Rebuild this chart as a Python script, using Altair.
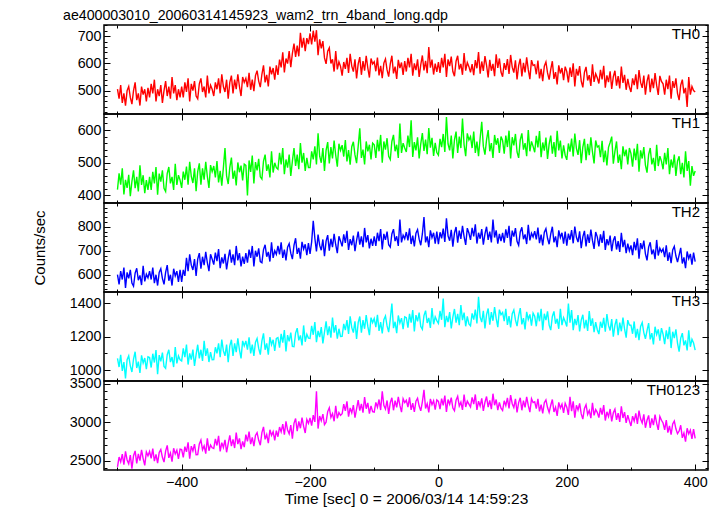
import altair as alt
import pandas as pd

FONT = "Liberation Sans"

# time grid (sec), 2.5 s steps from -500 to 400
TIME = [-500 + 2.5 * k for k in range(361)]

TH0 = [
    505, 470, 520, 455, 490, 445, 500, 515, 475, 450, 500, 530, 465, 490, 445, 515, 485, 505, 460, 510,
    475, 525, 490, 540, 460, 505, 480, 520, 455, 500, 535, 480, 515, 470, 550, 490, 520, 465, 505, 475,
    515, 475, 530, 495, 545, 460, 525, 500, 535, 480, 470, 525, 545, 495, 515, 475, 555, 490, 520, 505,
    480, 530, 505, 545, 490, 560, 515, 495, 540, 470, 530, 555, 490, 540, 505, 560, 515, 480, 550, 530,
    545, 513, 565, 503, 540, 498, 555, 573, 535, 513, 560, 593, 530, 558, 515, 588, 560, 583, 540, 593,
    558, 614, 585, 641, 567, 618, 599, 645, 586, 637, 673, 624, 665, 626, 712, 658, 694, 645, 693, 671,
    710, 670, 720, 680, 722, 630, 688, 655, 682, 620, 598, 645, 657, 600, 615, 570, 645, 578, 606, 589,
    555, 605, 580, 620, 565, 635, 590, 570, 615, 545, 598, 623, 558, 608, 573, 628, 583, 548, 618, 598,
    606, 571, 621, 556, 591, 546, 601, 616, 576, 551, 598, 628, 563, 588, 543, 613, 583, 603, 558, 608,
    570, 620, 585, 635, 555, 600, 575, 615, 550, 595, 629, 574, 609, 564, 660, 584, 614, 559, 599, 569,
    605, 565, 620, 585, 635, 550, 615, 590, 625, 570, 553, 608, 628, 578, 598, 558, 638, 573, 603, 588,
    567, 597, 557, 612, 582, 642, 562, 607, 572, 627, 593, 548, 613, 573, 598, 553, 633, 583, 618, 568,
    551, 601, 576, 616, 561, 631, 586, 566, 611, 541, 592, 617, 552, 602, 567, 622, 577, 542, 612, 592,
    595, 560, 610, 545, 580, 535, 590, 605, 565, 540, 578, 608, 543, 568, 523, 593, 563, 583, 538, 588,
    570, 530, 585, 550, 600, 515, 580, 555, 590, 535, 512, 567, 587, 537, 557, 517, 597, 532, 562, 547,
    526, 576, 541, 591, 511, 556, 531, 571, 506, 551, 573, 518, 553, 508, 588, 528, 558, 503, 543, 513,
    495, 545, 520, 560, 505, 575, 530, 510, 555, 485, 534, 559, 494, 544, 509, 564, 519, 484, 554, 534,
    525, 485, 540, 505, 555, 470, 535, 510, 545, 490, 465, 520, 540, 490, 510, 440, 550, 485, 515, 500,
    495,
]

TH1 = [
    418, 468, 433, 483, 403, 448, 423, 463, 398, 443, 477, 422, 457, 412, 492, 432, 462, 407, 447, 417,
    457, 417, 472, 437, 487, 402, 467, 442, 477, 422, 412, 467, 487, 437, 457, 417, 497, 432, 462, 447,
    423, 473, 448, 488, 433, 503, 458, 438, 483, 413, 473, 498, 433, 483, 448, 503, 458, 423, 493, 473,
    490, 455, 505, 440, 475, 430, 485, 545, 460, 435, 486, 516, 451, 476, 431, 501, 471, 491, 446, 496,
    492, 400, 507, 472, 522, 437, 502, 477, 512, 457, 450, 505, 525, 475, 495, 455, 535, 470, 500, 485,
    480, 530, 495, 545, 465, 510, 485, 525, 460, 505, 545, 490, 525, 480, 560, 500, 530, 475, 515, 485,
    485, 535, 510, 550, 495, 590, 520, 500, 545, 475, 538, 563, 498, 548, 513, 568, 523, 488, 558, 538,
    554, 519, 569, 504, 539, 494, 549, 564, 524, 499, 550, 605, 515, 540, 495, 565, 535, 555, 510, 560,
    555, 515, 570, 535, 585, 500, 565, 540, 575, 520, 510, 565, 585, 535, 555, 515, 620, 530, 560, 545,
    533, 583, 548, 630, 518, 563, 538, 578, 513, 558, 591, 536, 571, 526, 606, 546, 576, 521, 561, 531,
    523, 573, 548, 588, 533, 640, 558, 538, 583, 513, 570, 595, 530, 580, 545, 635, 555, 520, 590, 570,
    580, 545, 595, 530, 565, 520, 575, 625, 550, 525, 570, 600, 535, 560, 515, 585, 555, 575, 530, 580,
    568, 528, 583, 548, 598, 513, 578, 553, 588, 533, 515, 570, 590, 540, 560, 520, 600, 535, 565, 550,
    532, 582, 547, 597, 517, 562, 537, 577, 512, 557, 583, 528, 563, 518, 598, 538, 568, 513, 553, 523,
    509, 559, 534, 574, 519, 589, 544, 524, 569, 499, 548, 573, 508, 558, 523, 578, 533, 498, 568, 548,
    552, 517, 567, 502, 537, 492, 547, 562, 580, 497, 535, 565, 500, 525, 480, 550, 520, 540, 495, 545,
    528, 488, 543, 508, 558, 473, 538, 513, 548, 493, 470, 525, 545, 495, 515, 475, 555, 490, 520, 505,
    480, 530, 495, 545, 465, 510, 485, 525, 460, 505, 520, 465, 500, 455, 535, 475, 505, 430, 490, 460,
    475,
]

TH2 = [
    600, 560, 615, 580, 630, 545, 610, 585, 620, 565, 552, 607, 627, 577, 597, 557, 637, 572, 602, 587,
    615, 580, 630, 565, 600, 555, 610, 625, 585, 560, 610, 640, 575, 600, 555, 625, 595, 615, 570, 620,
    570, 620, 595, 670, 615, 685, 640, 620, 665, 595, 665, 690, 625, 675, 640, 695, 650, 615, 685, 665,
    642, 692, 657, 707, 627, 672, 647, 687, 622, 667, 705, 650, 685, 640, 720, 660, 690, 635, 675, 645,
    690, 650, 705, 670, 720, 635, 700, 675, 710, 655, 650, 705, 725, 675, 695, 655, 735, 670, 700, 685,
    720, 685, 735, 670, 705, 660, 715, 730, 690, 665, 722, 752, 687, 712, 667, 737, 707, 727, 682, 732,
    687, 737, 825, 752, 697, 767, 722, 702, 747, 677, 740, 765, 700, 750, 715, 770, 725, 690, 760, 740,
    718, 768, 733, 783, 703, 748, 723, 763, 698, 743, 780, 725, 760, 715, 795, 735, 765, 710, 750, 720,
    760, 720, 775, 740, 790, 705, 770, 745, 780, 725, 715, 770, 790, 740, 760, 720, 830, 735, 765, 750,
    778, 743, 793, 728, 763, 718, 773, 788, 748, 723, 770, 840, 735, 760, 715, 785, 755, 775, 730, 780,
    727, 777, 752, 792, 737, 835, 762, 742, 787, 717, 774, 799, 734, 784, 749, 804, 759, 724, 794, 774,
    745, 795, 760, 810, 730, 775, 750, 790, 725, 770, 800, 745, 780, 735, 830, 755, 785, 730, 770, 740,
    774, 734, 789, 754, 804, 719, 784, 759, 794, 739, 723, 778, 798, 748, 768, 728, 808, 743, 773, 758,
    782, 747, 797, 732, 767, 722, 777, 792, 752, 727, 770, 800, 735, 760, 715, 785, 755, 775, 730, 780,
    721, 771, 746, 786, 731, 801, 756, 736, 781, 711, 758, 783, 718, 768, 733, 788, 743, 708, 778, 758,
    718, 768, 733, 783, 703, 748, 723, 763, 698, 743, 760, 705, 740, 695, 775, 715, 745, 690, 730, 700,
    722, 682, 737, 702, 752, 667, 732, 707, 742, 687, 660, 715, 735, 685, 705, 665, 745, 680, 710, 695,
    708, 673, 723, 658, 693, 648, 703, 718, 678, 653, 682, 712, 647, 672, 627, 697, 667, 687, 642, 692,
    655,
]

TH3 = [
    1070, 1018, 1092, 995, 1048, 950, 1062, 1085, 1025, 988, 1065, 1110, 1012, 1050, 982, 1088, 1042, 1072, 1005, 1080,
    1075, 1015, 1098, 1045, 1120, 975, 1090, 1052, 1105, 1022, 1010, 1092, 1122, 1048, 1078, 1018, 1138, 1040, 1085, 1062,
    1055, 1130, 1077, 1153, 1033, 1100, 1063, 1123, 1025, 1093, 1152, 1070, 1122, 1055, 1175, 1085, 1130, 1048, 1108, 1062,
    1063, 1137, 1100, 1160, 1077, 1183, 1115, 1085, 1153, 1047, 1145, 1182, 1085, 1160, 1108, 1190, 1122, 1070, 1175, 1145,
    1175, 1123, 1197, 1100, 1153, 1085, 1167, 1190, 1130, 1093, 1175, 1220, 1122, 1160, 1092, 1198, 1152, 1182, 1115, 1190,
    1195, 1135, 1218, 1165, 1240, 1112, 1210, 1172, 1225, 1142, 1140, 1222, 1252, 1178, 1208, 1148, 1268, 1170, 1215, 1192,
    1190, 1265, 1212, 1288, 1168, 1235, 1198, 1258, 1160, 1228, 1292, 1210, 1262, 1195, 1315, 1225, 1270, 1188, 1248, 1202,
    1203, 1277, 1240, 1300, 1217, 1323, 1255, 1225, 1293, 1187, 1285, 1322, 1225, 1300, 1248, 1330, 1262, 1210, 1315, 1285,
    1310, 1258, 1332, 1235, 1288, 1220, 1302, 1325, 1265, 1228, 1305, 1400, 1252, 1290, 1222, 1328, 1282, 1312, 1245, 1320,
    1315, 1255, 1338, 1285, 1360, 1232, 1330, 1292, 1345, 1262, 1245, 1327, 1357, 1283, 1313, 1253, 1373, 1275, 1320, 1297,
    1280, 1355, 1302, 1430, 1258, 1325, 1288, 1348, 1250, 1318, 1367, 1285, 1337, 1270, 1390, 1300, 1345, 1263, 1323, 1277,
    1266, 1340, 1303, 1363, 1280, 1440, 1318, 1288, 1356, 1250, 1333, 1370, 1273, 1348, 1296, 1378, 1310, 1258, 1363, 1333,
    1346, 1294, 1368, 1271, 1324, 1256, 1338, 1361, 1301, 1264, 1327, 1372, 1274, 1312, 1244, 1350, 1304, 1334, 1267, 1342,
    1323, 1263, 1346, 1293, 1368, 1240, 1338, 1300, 1353, 1270, 1240, 1322, 1352, 1278, 1308, 1248, 1368, 1270, 1315, 1292,
    1262, 1400, 1284, 1360, 1240, 1307, 1270, 1330, 1232, 1300, 1332, 1250, 1302, 1235, 1355, 1265, 1310, 1228, 1288, 1242,
    1216, 1290, 1253, 1313, 1230, 1336, 1268, 1238, 1306, 1200, 1270, 1307, 1210, 1285, 1233, 1315, 1247, 1195, 1300, 1270,
    1270, 1218, 1292, 1195, 1248, 1180, 1262, 1285, 1225, 1188, 1237, 1282, 1184, 1222, 1154, 1260, 1214, 1244, 1177, 1252,
    1215, 1155, 1238, 1185, 1260, 1132, 1230, 1192, 1245, 1162, 1110, 1192, 1222, 1148, 1178, 1118, 1238, 1140, 1185, 1162,
    1120,
]

TH0123 = [
    2422, 2548, 2485, 2585, 2448, 2622, 2510, 2460, 2572, 2398, 2565, 2628, 2465, 2590, 2502, 2640, 2528, 2440, 2615, 2565,
    2620, 2532, 2658, 2495, 2582, 2470, 2608, 2645, 2545, 2482, 2625, 2700, 2538, 2600, 2488, 2662, 2588, 2638, 2525, 2650,
    2645, 2545, 2682, 2615, 2740, 2528, 2690, 2628, 2715, 2578, 2580, 2718, 2768, 2642, 2692, 2592, 2792, 2630, 2705, 2668,
    2660, 2785, 2698, 2822, 2622, 2735, 2672, 2772, 2610, 2722, 2828, 2690, 2778, 2665, 2865, 2715, 2790, 2652, 2752, 2678,
    2840, 2752, 2878, 2715, 2802, 2690, 2828, 2865, 2765, 2702, 2865, 2940, 2778, 2840, 2728, 2902, 2828, 2878, 2765, 2890,
    2812, 2938, 2875, 2975, 2838, 3012, 2900, 2850, 2962, 2788, 2985, 3048, 2885, 3010, 2922, 3060, 2948, 2860, 3035, 2985,
    3055, 2955, 3092, 3005, 3400, 2918, 3080, 3018, 3105, 2968, 3000, 3138, 3188, 3062, 3112, 3012, 3212, 3050, 3125, 3088,
    3110, 3235, 3148, 3272, 3072, 3185, 3122, 3222, 3060, 3172, 3288, 3150, 3238, 3125, 3325, 3175, 3250, 3112, 3212, 3138,
    3132, 3258, 3195, 3295, 3158, 3400, 3220, 3170, 3282, 3108, 3255, 3318, 3155, 3280, 3192, 3330, 3218, 3130, 3305, 3255,
    3285, 3197, 3323, 3160, 3247, 3135, 3273, 3310, 3210, 3147, 3265, 3420, 3178, 3240, 3128, 3302, 3228, 3278, 3165, 3290,
    3270, 3170, 3307, 3220, 3345, 3133, 3295, 3233, 3320, 3183, 3148, 3286, 3336, 3210, 3260, 3160, 3360, 3198, 3273, 3236,
    3198, 3323, 3236, 3360, 3160, 3273, 3210, 3310, 3148, 3260, 3333, 3195, 3283, 3170, 3370, 3220, 3295, 3157, 3257, 3183,
    3152, 3278, 3215, 3315, 3178, 3352, 3240, 3190, 3302, 3128, 3255, 3318, 3155, 3280, 3192, 3330, 3218, 3130, 3305, 3255,
    3265, 3177, 3303, 3140, 3227, 3115, 3253, 3290, 3190, 3127, 3220, 3295, 3133, 3195, 3083, 3257, 3183, 3233, 3120, 3245,
    3195, 3095, 3330, 3145, 3270, 3058, 3220, 3158, 3245, 3108, 3040, 3178, 3228, 3102, 3152, 3052, 3252, 3090, 3165, 3128,
    3060, 3185, 3098, 3222, 3022, 3135, 3072, 3172, 3010, 3122, 3168, 3030, 3118, 3005, 3205, 3055, 3130, 2992, 3092, 3018,
    2952, 3078, 3015, 3115, 2978, 3152, 3040, 2990, 3102, 2928, 3025, 3088, 2925, 3050, 2962, 3100, 2988, 2900, 3075, 3025,
    2990, 2902, 3028, 2865, 2952, 2840, 2978, 3015, 2915, 2852, 2885, 2960, 2798, 2860, 2748, 2922, 2848, 2898, 2785, 2910,
    2790,
]

TITLE = "ae400003010_20060314145923_wam2_trn_4band_long.qdp"
X_TITLE = "Time [sec] 0 = 2006/03/14 14:59:23"
Y_TITLE = "Counts/sec"

X_DOMAIN = [-521, 420]
X_MAJOR = [-400, -200, 0, 200, 400]
X_MINOR = [-500, -300, -100, 100, 300]

NAMES = ["TH0", "TH1", "TH2", "TH3", "TH0123"]
SERIES = [TH0, TH1, TH2, TH3, TH0123]
COLORS = ["#ff0000", "#00ff00", "#0000ff", "#00ffff", "#ff00ff"]
Y_DOMAINS = [[414, 741], [377, 649], [528, 899], [934, 1469], [2380, 3535]]
Y_MAJOR = [[500, 600, 700], [400, 500, 600], [600, 700, 800],
           [1000, 1200, 1400], [2500, 3000, 3500]]
Y_MINOR = [list(range(420, 741, 20)), list(range(380, 641, 20)),
           list(range(540, 881, 20)), list(range(1000, 1401, 100)),
           list(range(2400, 3501, 100))]

W, H = 604, 89
MAJ, MIN = 6, 3


def axis(orient, vals, size, labels=False, title=None, tpad=0, tsize=15):
    kw = dict(orient=orient, values=vals, tickSize=size, offset=-size,
              domain=False, grid=False, tickColor="black", tickWidth=1,
              labels=labels, title=title)
    if labels:
        kw.update(labelFont=FONT, labelFontSize=14.3, labelColor="black",
                  format="d",
                  labelPadding=(5 if orient in ("bottom", "top") else 3))
    if orient == "left":
        kw.update(minExtent=44, maxExtent=44)
    if title:
        kw.update(titleFont=FONT, titleFontSize=tsize, titleFontWeight="normal",
                  titleColor="black", titlePadding=tpad)
    return alt.Axis(**kw)


panels = []
for i in range(5):
    df = pd.DataFrame({"t": TIME, "v": SERIES[i]})
    last = i == 4
    xs = alt.Scale(domain=X_DOMAIN, nice=False, zero=False)
    ys = alt.Scale(domain=Y_DOMAINS[i], nice=False, zero=False)
    line = alt.Chart(df).mark_line(color=COLORS[i], strokeWidth=1.4, clip=True).encode(
        x=alt.X("t:Q", scale=xs,
                axis=axis("bottom", X_MAJOR, MAJ, labels=last,
                          title=X_TITLE if last else None, tpad=2, tsize=15.5)),
        y=alt.Y("v:Q", scale=ys,
                axis=axis("left", Y_MAJOR[i], MAJ, labels=True,
                          title=Y_TITLE if i == 2 else None, tpad=19)),
    )
    ghost = alt.Chart(df).mark_point(opacity=0)
    l2 = ghost.encode(
        x=alt.X("t:Q", scale=xs, axis=axis("bottom", X_MINOR, MIN)),
        y=alt.Y("v:Q", scale=ys, axis=axis("left", Y_MINOR[i], MIN)),
    )
    l3 = ghost.encode(
        x=alt.X("t:Q", scale=xs, axis=axis("top", X_MAJOR, MAJ)),
        y=alt.Y("v:Q", scale=ys, axis=axis("right", Y_MAJOR[i], MAJ)),
    )
    l4 = ghost.encode(
        x=alt.X("t:Q", scale=xs, axis=axis("top", X_MINOR, MIN)),
        y=alt.Y("v:Q", scale=ys, axis=axis("right", Y_MINOR[i], MIN)),
    )
    txt = alt.Chart(pd.DataFrame({"label": [NAMES[i]]})).mark_text(
        align="right", baseline="top", font=FONT, fontSize=15, color="black"
    ).encode(x=alt.value(W - 8), y=alt.value(2), text="label:N")
    layer = alt.layer(line, l2, l3, l4, txt).resolve_axis(
        x="independent", y="independent"
    ).properties(width=W, height=H)
    if i == 0:
        layer = layer.properties(title=alt.TitleParams(
            text=TITLE, anchor="start", font=FONT, fontSize=14.2,
            fontWeight="normal", color="black", offset=1))
    panels.append(layer)

chart = alt.vconcat(*panels, spacing=0, bounds="flush").properties(
    padding={"left": 23, "top": 0, "right": 5, "bottom": 0},
    background="white",
).configure_view(stroke="black", strokeWidth=1.5)

chart.save("out.html", embed_options={"renderer": "svg", "actions": False})
